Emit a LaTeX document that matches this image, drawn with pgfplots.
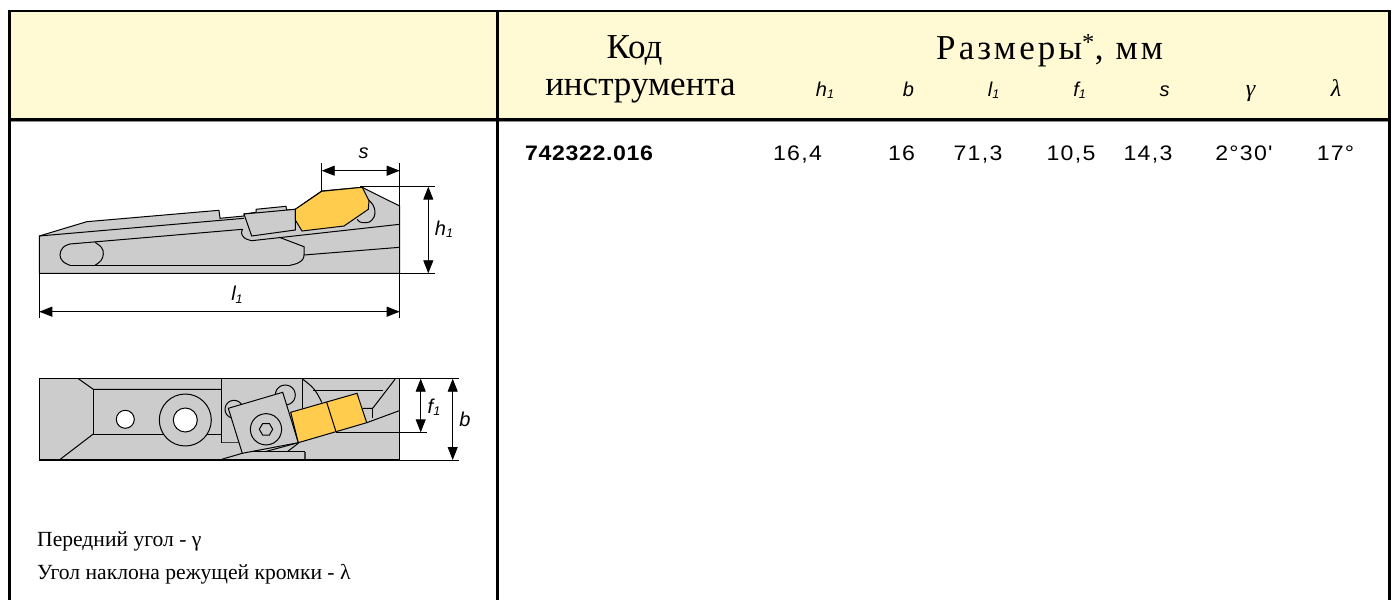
\documentclass[border=0pt]{standalone}
\usepackage{fontspec}
\setmainfont{Liberation Serif}
\newfontfamily\sansf{Liberation Sans}
\newfontfamily\numf[LetterSpace=6,FakeStretch=1.1]{Liberation Sans}
\newfontfamily\boldf[LetterSpace=3,FakeStretch=1.1]{Liberation Sans}
\newfontfamily\spacedf[LetterSpace=9]{Liberation Serif}
\usepackage{pgfplots}
\pgfplotsset{compat=1.18}
\usetikzlibrary{arrows.meta}
\definecolor{hdr}{HTML}{FFFAD4}
\definecolor{body}{HTML}{CCCCCC}
\definecolor{ins}{HTML}{FFCC4D}
\newcommand{\dimlab}[2]{{\sansf\fontsize{20}{23}\selectfont\itshape #1\raisebox{-2pt}{\fontsize{12.5}{14}\selectfont #2}}}
\newcommand{\pts}[2][]{\addplot[black,line width=1pt,no marks,#1] coordinates {#2};}
\newcommand{\poly}[2]{\addplot[black,line width=1pt,no marks,fill=#1] coordinates {#2} -- cycle;}
\newcommand{\darc}[1]{\addplot[black,line width=1pt,no marks,smooth,tension=.7] coordinates {#1};}
\newcommand{\round}[2]{\addplot[black,line width=1pt,no marks,fill=#1,smooth cycle,tension=.55] coordinates {#2};}
\newcommand{\dimarrow}[1]{\addplot[black,line width=.9pt,no marks,{Triangle[length=13pt,width=10pt]}-{Triangle[length=13pt,width=10pt]}] coordinates {#1};}
\newcommand{\dcirc}[3]{\addplot[only marks,mark=*,mark size=#2pt,mark options={fill=#3,draw=black,line width=1pt}] coordinates {#1};}
\begin{document}
\begin{tikzpicture}
\begin{axis}[scale only axis,width=1393pt,height=600pt,xmin=0,xmax=1393,ymin=0,ymax=600,y dir=reverse,axis lines=none,clip=false,ticks=none]
% page
\addplot[draw=none,fill=white] coordinates {(0,0)(1393,0)(1393,600)(0,600)} -- cycle;
% header band
\addplot[draw=none,fill=hdr] coordinates {(10,11)(1390,11)(1390,119)(10,119)} -- cycle;
% side view
\poly{body}{(39.3,236)(86.7,221.7)(219,210.3)(220,218.3)(244,216)(244,214)(256,212.3)(256,209.3)(286,206.3)(286.7,210)(295.3,209.3)(321.7,191)(362.3,187.3)(370,191.3)(399.7,206)(399.7,273.3)(39.3,273.3)}
\pts{(39.3,236)(244,218.3)}
\pts{(70,244)(242.7,229.3)}
\darc{(70,244)(63,247.5)(60,255)(63,261.5)(70,265.3)}
\pts{(70,265.3)(290,265.3)}
\darc{(95,242.3)(101.5,247.5)(103.3,254)(101,260.5)(95,265.3)}
\darc{(290,265.3)(298,263)(303,259)(304,255)}
\pts{(304,255)(304,246.7)(279.3,237.3)}
\pts{(304,255)(399.7,247.3)}
\pts{(251.7,240.7)(399.7,224.3)}
\darc{(242.7,229.3)(241.5,233)(244.5,238)(251.7,240.7)}
\darc{(366.7,198.3)(373,205)(375,213.3)(372,220)(366.7,222.7)(360,222)(357.3,219.3)}
\poly{body}{(244,214)(295.3,209.3)(295.3,230)(251.7,236)}
\poly{ins}{(295.3,209.3)(321.7,191.3)(362.3,187.3)(369,200.7)(368.3,209.3)(344,226)(302,231)(295.3,220)}
\addplot[black,line width=1.2pt,no marks] coordinates {(39.3,273.3)(399.7,273.3)};
% side view dimensions
\pts[line width=.7pt]{(321.7,191)(321.7,163.3)}
\pts[line width=.7pt]{(399.7,163.3)(399.7,318)}
\pts[line width=.7pt]{(39.3,273.3)(39.3,318)}
\pts[line width=.7pt]{(360,186.7)(435,186.7)}
\pts[line width=.7pt]{(399.7,273.3)(435,273.3)}
\dimarrow{(321.7,170.7)(399.7,170.7)}
\dimarrow{(428.3,186.7)(428.3,273.3)}
\dimarrow{(39.3,311.7)(399.7,311.7)}
% top view
\poly{body}{(39.3,378.7)(399.7,378.7)(399.7,460)(39.3,460)}
\pts{(78.3,378.7)(93.3,389.3)(221.7,389.3)}
\pts{(93.3,389.3)(93.3,434)(221.7,434)}
\pts{(93.3,434)(59.3,460)}
\pts{(221.7,378.7)(221.7,442.7)}
\addplot[black!75,line width=1.3pt,no marks] coordinates {(221.7,442.7)(240,442.7)};
\pts{(302.7,378.7)(302.7,410)}
\darc{(302.7,379.3)(314,389)(321.7,402.3)}
\pts{(313.3,390)(382.7,390)}
\pts{(395,379.3)(372.7,408.3)(362.7,408.3)}
\pts{(372.7,408.3)(372.7,418.3)}
\pts{(366.7,422.7)(399.3,410.7)}
\round{body}{(295.3,395)(294,400)(290.3,403.7)(285.3,405)(280.3,403.7)(276.6,400)(275.3,395)(276.6,390)(280.3,386.3)(285.3,385)(290.3,386.3)(294,390)}
\round{body}{(243,409.3)(241.8,413.8)(238.5,417.1)(234,418.3)(229.5,417.1)(226.2,413.8)(225,409.3)(226.2,404.8)(229.5,401.5)(234,400.3)(238.5,401.5)(241.8,404.8)}
\pts{(221.7,459.3)(242.3,453.3)}
\pts{(242.3,451.7)(305,451.7)}
\addplot[black!75,line width=1.3pt,no marks] coordinates {(305,451.7)(305,460)};
\pts{(265,451.7)(298.3,442.7)}
\pts{(287.3,451.7)(298.3,443.3)}
\poly{body}{(228.3,408.3)(282.7,392.3)(298.3,442.7)(242.3,453.3)}
\round{body}{(281.7,429.3)(279.6,437.2)(273.9,442.9)(266,445)(258.2,442.9)(252.4,437.2)(250.3,429.3)(252.4,421.5)(258.2,415.7)(266,413.6)(273.9,415.7)(279.6,421.5)}
\poly{body}{(272.7,429.3)(269.4,435.1)(262.7,435.1)(259.3,429.3)(262.7,423.5)(269.4,423.5)}
\poly{ins}{(290.7,412.3)(357,393.3)(366.7,422.7)(298.3,442.7)}
\pts{(326.7,402.3)(336,431.7)}
\addplot[black,line width=1.2pt,no marks] coordinates {(39.3,460)(399.7,460)};
\pts[line width=.7pt]{(336,432.3)(426.7,432.3)}
\pts[line width=.7pt]{(399.7,378.7)(459.3,378.7)}
\pts[line width=.7pt]{(399.7,460)(459.3,460)}
\dimarrow{(420.7,378.7)(420.7,432.3)}
\dimarrow{(452.7,378.7)(452.7,460)}
\dcirc{(185.3,420)}{26}{body}
\dcirc{(185.3,420)}{12}{white}
\dcirc{(125.3,419.3)}{9}{white}
% table rules
\addplot[black,line width=2.6pt,no marks] coordinates {(9,11)(1391,11)};
\addplot[black,line width=2.6pt,no marks] coordinates {(9,119.5)(1391,119.5)};
\addplot[black!45,line width=1pt,no marks] coordinates {(9,121.5)(1391,121.5)};
\addplot[black,line width=2.8pt,no marks] coordinates {(9.5,10)(9.5,600)};
\addplot[black,line width=2.8pt,no marks] coordinates {(497.3,10)(497.3,600)};
\addplot[black,line width=2.8pt,no marks] coordinates {(1389.8,10)(1389.8,600)};
% drawing labels
\node[anchor=base,inner sep=0pt] at (axis cs:363.5,159) {\dimlab{s}{}};
\node[anchor=base,inner sep=0pt] at (axis cs:444,236) {\dimlab{h}{1}};
\node[anchor=base,inner sep=0pt] at (axis cs:237,301) {\dimlab{l}{1}};
\node[anchor=base,inner sep=0pt] at (axis cs:434,413) {\dimlab{f}{1}};
\node[anchor=base,inner sep=0pt] at (axis cs:465,426) {\dimlab{b}{}};
% notes
\node[anchor=base west,inner sep=0pt] at (axis cs:37,546.5) {\fontsize{21.6}{25}\selectfont Передний угол - γ};
\node[anchor=base west,inner sep=0pt] at (axis cs:37,579.5) {\fontsize{21.6}{25}\selectfont Угол наклона режущей кромки - λ};
% header texts
\node[anchor=base,inner sep=0pt] at (axis cs:634.5,58.5) {\fontsize{35}{40}\selectfont Код};
\node[anchor=base,inner sep=0pt] at (axis cs:640.5,96) {\fontsize{35}{40}\selectfont инструмента};
\node[anchor=base west,inner sep=0pt] at (axis cs:936,60) {\spacedf\fontsize{35}{40}\selectfont Размеры\textsuperscript{*}, мм};
\node[anchor=base,inner sep=0pt] at (axis cs:825,97) {\dimlab{h}{1}};
\node[anchor=base,inner sep=0pt] at (axis cs:908.5,97) {\dimlab{b}{}};
\node[anchor=base,inner sep=0pt] at (axis cs:993.5,97) {\dimlab{l}{1}};
\node[anchor=base,inner sep=0pt] at (axis cs:1079.5,97) {\dimlab{f}{1}};
\node[anchor=base,inner sep=0pt] at (axis cs:1164.5,97) {\dimlab{s}{}};
\node[anchor=base,inner sep=0pt] at (axis cs:1250.5,97) {\fontsize{24}{27}\selectfont\itshape γ};
\node[anchor=base,inner sep=0pt] at (axis cs:1336,97) {\fontsize{24}{27}\selectfont\itshape λ};
% row
\node[anchor=base west,inner sep=0pt] at (axis cs:525,161) {\boldf\bfseries\fontsize{21}{24}\selectfont 742322.016};
\node[anchor=base,inner sep=0pt] at (axis cs:797.5,161) {\numf\fontsize{21}{24}\selectfont 16,4};
\node[anchor=base,inner sep=0pt] at (axis cs:901.5,161) {\numf\fontsize{21}{24}\selectfont 16};
\node[anchor=base,inner sep=0pt] at (axis cs:978,161) {\numf\fontsize{21}{24}\selectfont 71,3};
\node[anchor=base,inner sep=0pt] at (axis cs:1071,161) {\numf\fontsize{21}{24}\selectfont 10,5};
\node[anchor=base,inner sep=0pt] at (axis cs:1148,161) {\numf\fontsize{21}{24}\selectfont 14,3};
\node[anchor=base,inner sep=0pt] at (axis cs:1244,161) {\numf\fontsize{21}{24}\selectfont 2°30'};
\node[anchor=base,inner sep=0pt] at (axis cs:1335.5,161) {\numf\fontsize{21}{24}\selectfont 17°};
\end{axis}
\end{tikzpicture}
\end{document}
